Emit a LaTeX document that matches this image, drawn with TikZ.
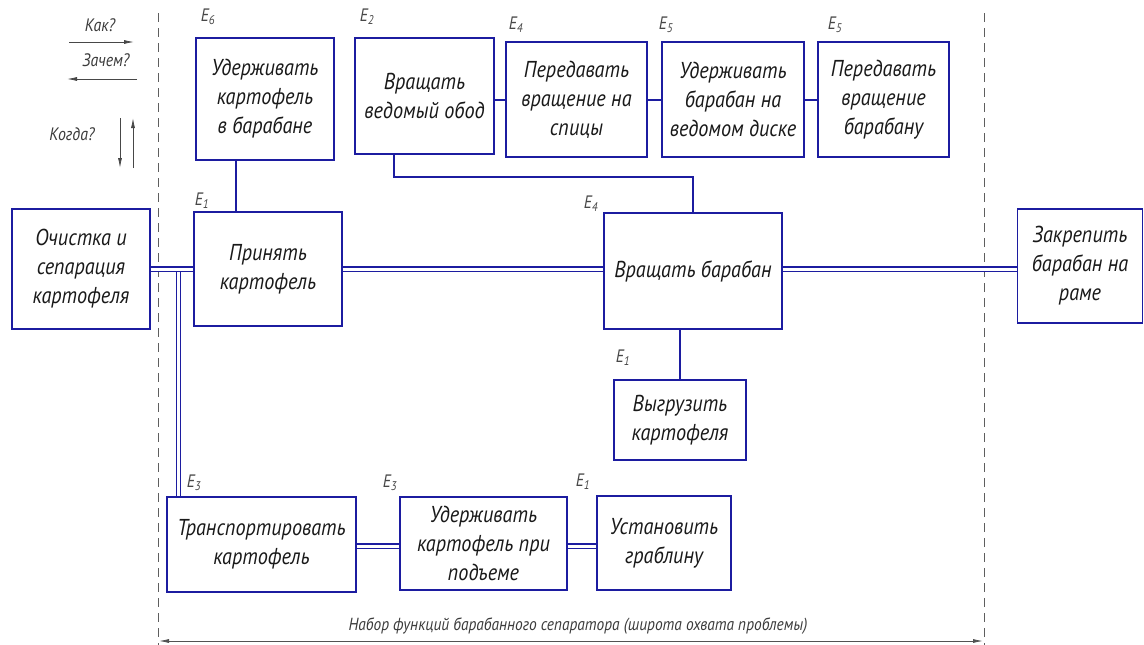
\documentclass[tikz,border=0pt]{standalone}
\usepackage{fontspec}
\setmainfont{PT Sans}[FakeStretch=0.88]
\usetikzlibrary{arrows.meta}
\definecolor{gblue}{RGB}{28,28,160}
\definecolor{gtext}{RGB}{25,25,25}
\tikzset{
  fbox/.style={draw=gblue, line width=1.3pt, inner sep=2pt, align=center,
    text=gtext, font=\fontsize{23}{29}\selectfont\itshape},
  elab/.style={text=gtext!80, font=\fontsize{18}{18}\selectfont\itshape, inner sep=0pt},
  leg/.style={text=gtext!85, font=\fontsize{18}{18}\selectfont\itshape, inner sep=0pt},
  sline/.style={draw=gblue, line width=1.3pt},
  dline/.style={draw=gblue, double=white, double distance=3pt, line width=1.2pt},
  legarrow/.style={draw=gtext!80, line width=0.8pt, -{Latex[length=10pt,width=4pt]}},
  bord/.style={draw=gtext!70, line width=0.8pt, dash pattern=on 9pt off 6pt},
}
\begin{document}
\begin{tikzpicture}[x=1pt,y=-1pt]
\useasboundingbox (0,0) rectangle (1144,645);
% boundaries
\coordinate (bl1) at (158,13);
\coordinate (bl2) at (158,645);
\coordinate (br1) at (984,13);
\coordinate (br2) at (984,645);
\draw[bord] (bl1) -- (bl2);
\draw[bord] (br1) -- (br2);
% legend
\node[leg] (kak) at (100,25) {Как?};
\coordinate (ka1) at (69,42); \coordinate (ka2) at (134,42);
\draw[legarrow] (ka1) -- (ka2);
\node[leg] (zachem) at (106,60) {Зачем?};
\coordinate (za1) at (137,79); \coordinate (za2) at (67,79);
\draw[legarrow] (za1) -- (za2);
\node[leg] (kogda) at (72,134) {Когда?};
\coordinate (kd1) at (120,118); \coordinate (kd2) at (120,168);
\draw[legarrow] (kd1) -- (kd2);
\coordinate (ku1) at (133,168); \coordinate (ku2) at (133,118);
\draw[legarrow] (ku1) -- (ku2);
% boxes
\node[fbox, minimum width=138pt, minimum height=120pt] (och) at (81,269) {Очистка и\\ сепарация\\картофеля};
\node[fbox, minimum width=148pt, minimum height=114pt] (prin) at (268,269) {Принять\\картофель};
\node[fbox, minimum width=138pt, minimum height=122pt] (udk) at (265,99) {Удерживать\\картофель\\в барабане};
\node[fbox, minimum width=139pt, minimum height=116pt] (ved) at (424.5,96) {Вращать\\ведомый обод};
\node[fbox, minimum width=141pt, minimum height=115pt] (per1) at (576.5,99.5) {Передавать\\вращение на\\спицы};
\node[fbox, minimum width=142pt, minimum height=115pt] (udb) at (733,99.5) {Удерживать\\барабан на\\ведомом диске};
\node[fbox, minimum width=131pt, minimum height=115pt] (per2) at (883.5,99.5) {Передавать\\вращение\\барабану};
\node[fbox, minimum width=178pt, minimum height=116pt] (vrb) at (693,271) {Вращать барабан};
\node[fbox, minimum width=125pt, minimum height=114pt] (zak) at (1080,266) {Закрепить\\барабан на\\раме};
\node[fbox, minimum width=132pt, minimum height=80pt] (vyg) at (680,420) {Выгрузить\\картофеля};
\node[fbox, minimum width=189pt, minimum height=95pt] (tra) at (261.5,544.5) {Транспортировать\\картофель};
\node[fbox, minimum width=167pt, minimum height=93pt] (udp) at (483.5,543.5) {Удерживать\\картофель при\\подъеме};
\node[fbox, minimum width=134pt, minimum height=94pt] (ust) at (664,543) {Установить\\граблину};
% E labels
\node[elab] (e6) at (208,17) {E\textsubscript{6}};
\node[elab] (e2) at (367,17) {E\textsubscript{2}};
\node[elab] (e4a) at (516,25) {E\textsubscript{4}};
\node[elab] (e5a) at (666,25) {E\textsubscript{5}};
\node[elab] (e5b) at (835,25) {E\textsubscript{5}};
\node[elab] (e1a) at (202,201) {E\textsubscript{1}};
\node[elab] (e4b) at (591,204) {E\textsubscript{4}};
\node[elab] (e1b) at (623,358) {E\textsubscript{1}};
\node[elab] (e3a) at (194,483) {E\textsubscript{3}};
\node[elab] (e3b) at (390,483) {E\textsubscript{3}};
\node[elab] (e1c) at (583,482) {E\textsubscript{1}};
% single connectors
\draw[sline] (udk.south -| 236,0) -- (prin.north -| 236,0);
\draw[sline] (ved.east |- 0,100) -- (per1.west |- 0,100);
\draw[sline] (per1.east |- 0,100) -- (udb.west |- 0,100);
\draw[sline] (udb.east |- 0,100) -- (per2.west |- 0,100);
\coordinate (v1) at (394,177);
\coordinate (v2) at (693,177);
\draw[sline] (ved.south -| v1) -- (v1) -- (v2) -- (vrb.north -| v2);
\draw[sline] (vrb.south -| 680,0) -- (vyg.north -| 680,0);
% double connectors
\coordinate (j) at (178.5,269);
\draw[dline] (j) ++(0,1) -- (tra.north -| j);
\draw[dline] (och.east |- 0,269) -- (prin.west |- 0,269);
\draw[dline] (prin.east |- 0,269) -- (vrb.west |- 0,269);
\draw[dline] (vrb.east |- 0,269) -- (zak.west |- 0,269);
\draw[dline] (tra.east |- 0,546) -- (udp.west |- 0,546);
\draw[dline] (udp.east |- 0,546) -- (ust.west |- 0,546);
% dimension
\coordinate (d1) at (159,641);
\coordinate (d2) at (983,641);
\draw[draw=gtext!75, line width=0.8pt, {Latex[length=10pt,width=4pt]}-{Latex[length=10pt,width=4pt]}] (d1) -- (d2);
\node[leg, font=\fontsize{17.5}{17.5}\selectfont\itshape] (dimtxt) at (578,626) {Набор функций барабанного сепаратора (широта охвата проблемы)};
\end{tikzpicture}
\end{document}
